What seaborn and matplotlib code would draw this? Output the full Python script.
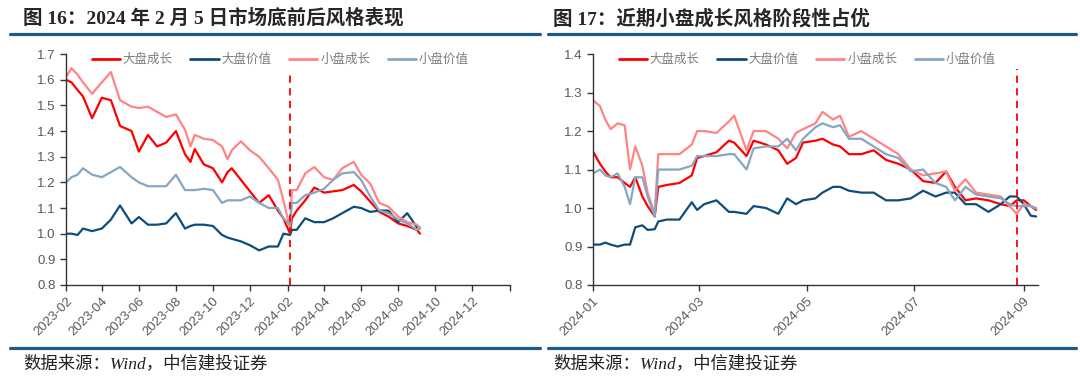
import pandas as pd
import matplotlib
matplotlib.use("Agg")
import matplotlib.pyplot as plt
from matplotlib.lines import Line2D
import seaborn as sns

# 系列名称与颜色
SERIES = ["大盘成长", "大盘价值", "小盘成长", "小盘价值"]
COLORS = ["#FF0000", "#0E4D7B", "#FF8585", "#86A7C2"]

# 图16：2023-02 ~ 2024-09
dates_16 = [
    "2023-02-01", "2023-02-10", "2023-02-20", "2023-03-01", "2023-03-16", "2023-04-01",
    "2023-04-16", "2023-05-01", "2023-05-20", "2023-06-01", "2023-06-16", "2023-07-01",
    "2023-07-16", "2023-08-01", "2023-08-16", "2023-08-25", "2023-09-01", "2023-09-16",
    "2023-10-01", "2023-10-16", "2023-10-25", "2023-11-01", "2023-11-16", "2023-12-01",
    "2023-12-16", "2024-01-01", "2024-01-16", "2024-01-25", "2024-02-05", "2024-02-08",
    "2024-02-16", "2024-03-01", "2024-03-16", "2024-04-01", "2024-04-16", "2024-05-01",
    "2024-05-20", "2024-06-01", "2024-06-16", "2024-07-01", "2024-07-16", "2024-08-01",
    "2024-08-16", "2024-09-01", "2024-09-06",
]
lg_16 = [1.60, 1.59, 1.56, 1.535, 1.45, 1.53, 1.52, 1.42, 1.40, 1.32, 1.385, 1.34,
         1.355, 1.40, 1.31, 1.28, 1.33, 1.27, 1.255, 1.20, 1.24, 1.255, 1.21, 1.165,
         1.12, 1.15, 1.09, 1.06, 1.00, 1.06, 1.09, 1.13, 1.18, 1.16, 1.165, 1.17,
         1.19, 1.165, 1.125, 1.085, 1.067, 1.04, 1.03, 1.015, 1.00]
lv_16 = [1.00, 1.00, 0.995, 1.02, 1.01, 1.02, 1.055, 1.11, 1.04, 1.065, 1.035, 1.035,
         1.04, 1.08, 1.02, 1.03, 1.035, 1.035, 1.03, 0.995, 0.985, 0.98, 0.97, 0.955,
         0.935, 0.95, 0.95, 1.00, 0.995, 1.015, 1.015, 1.06, 1.045, 1.045, 1.06, 1.08,
         1.105, 1.10, 1.085, 1.09, 1.09, 1.045, 1.08, 1.025, 1.02]
sg_16 = [1.61, 1.645, 1.62, 1.59, 1.545, 1.59, 1.63, 1.52, 1.495, 1.49, 1.495, 1.475,
         1.455, 1.465, 1.405, 1.34, 1.385, 1.37, 1.365, 1.34, 1.29, 1.325, 1.36, 1.325,
         1.30, 1.255, 1.21, 1.13, 1.02, 1.17, 1.17, 1.235, 1.26, 1.22, 1.21, 1.255,
         1.28, 1.23, 1.195, 1.12, 1.105, 1.067, 1.045, 1.035, 1.02]
sv_16 = [1.20, 1.22, 1.23, 1.255, 1.23, 1.22, 1.24, 1.26, 1.22, 1.20, 1.185, 1.185,
         1.185, 1.23, 1.17, 1.17, 1.17, 1.175, 1.17, 1.12, 1.13, 1.13, 1.13, 1.145,
         1.12, 1.10, 1.10, 1.06, 1.035, 1.12, 1.12, 1.15, 1.16, 1.175, 1.21, 1.235,
         1.24, 1.21, 1.145, 1.09, 1.08, 1.055, 1.04, 1.015, 1.025]

# 图17：2024-01 ~ 2024-09
dates_17 = [
    "2024-01-01", "2024-01-05", "2024-01-08", "2024-01-11", "2024-01-15", "2024-01-19",
    "2024-01-22", "2024-01-25", "2024-01-29", "2024-02-01", "2024-02-05", "2024-02-07",
    "2024-02-12", "2024-02-19", "2024-02-26", "2024-02-29", "2024-03-04", "2024-03-11",
    "2024-03-18", "2024-03-21", "2024-03-28", "2024-04-01", "2024-04-08", "2024-04-15",
    "2024-04-20", "2024-04-25", "2024-04-29", "2024-05-06", "2024-05-10", "2024-05-16",
    "2024-05-20", "2024-05-25", "2024-06-01", "2024-06-08", "2024-06-15", "2024-06-22",
    "2024-06-29", "2024-07-06", "2024-07-13", "2024-07-19", "2024-07-24", "2024-07-30",
    "2024-08-05", "2024-08-12", "2024-08-19", "2024-08-24", "2024-08-28", "2024-09-01",
    "2024-09-05", "2024-09-08",
]
lg_17 = [1.147, 1.115, 1.095, 1.08, 1.08, 1.065, 1.055, 1.08, 1.03, 1.005, 0.978, 1.055,
         1.06, 1.065, 1.085, 1.13, 1.135, 1.145, 1.175, 1.17, 1.135, 1.175, 1.165, 1.15,
         1.115, 1.13, 1.17, 1.175, 1.18, 1.165, 1.16, 1.14, 1.14, 1.15, 1.125, 1.115,
         1.10, 1.07, 1.065, 1.095, 1.055, 1.02, 1.025, 1.02, 1.01, 1.005, 1.02, 1.02,
         1.005, 0.995]
lv_17 = [0.905, 0.905, 0.91, 0.905, 0.90, 0.905, 0.905, 0.95, 0.955, 0.943, 0.945, 0.965,
         0.97, 0.97, 1.015, 0.995, 1.01, 1.02, 0.99, 0.99, 0.985, 1.005, 1.00, 0.985,
         1.025, 1.01, 1.02, 1.025, 1.04, 1.055, 1.055, 1.045, 1.04, 1.04, 1.02, 1.02,
         1.025, 1.045, 1.03, 1.04, 1.04, 1.01, 1.01, 0.99, 1.01, 1.03, 1.03, 1.01,
         0.98, 0.978]
sg_17 = [1.28, 1.265, 1.23, 1.205, 1.22, 1.215, 1.10, 1.16, 1.11, 1.04, 0.985, 1.14,
         1.14, 1.14, 1.165, 1.20, 1.20, 1.195, 1.225, 1.24, 1.15, 1.20, 1.20, 1.18,
         1.155, 1.195, 1.205, 1.22, 1.25, 1.23, 1.24, 1.185, 1.20, 1.18, 1.16, 1.14,
         1.10, 1.085, 1.09, 1.095, 1.045, 1.075, 1.04, 1.035, 1.03, 1.005, 0.985, 1.01,
         1.005, 1.00]
sv_17 = [1.09, 1.10, 1.085, 1.08, 1.09, 1.055, 1.01, 1.08, 1.08, 1.03, 0.978, 1.10,
         1.10, 1.10, 1.11, 1.135, 1.135, 1.135, 1.14, 1.14, 1.10, 1.155, 1.16, 1.16,
         1.18, 1.15, 1.18, 1.21, 1.22, 1.21, 1.215, 1.18, 1.18, 1.16, 1.14, 1.13,
         1.095, 1.10, 1.065, 1.055, 1.02, 1.055, 1.035, 1.03, 1.025, 1.01, 1.005, 1.005,
         1.005, 0.998]

ticks_16 = ["2023-02", "2023-04", "2023-06", "2023-08", "2023-10", "2023-12", "2024-02",
            "2024-04", "2024-06", "2024-08", "2024-10", "2024-12", "2025-02"]
ticks_17 = ["2024-01", "2024-03", "2024-05", "2024-07", "2024-09"]

MARK_16 = "2024-02-05"
MARK_17 = "2024-08-28"

CJK = ["Liberation Sans", "Noto Sans CJK SC", "DejaVu Sans"]
TITLE_FONT = ["Liberation Serif", "Noto Sans CJK SC"]
GRAY = "#595959"
RULE = "#1D5A8A"

sns.set_theme(style="ticks")
plt.rcParams["font.family"] = CJK
plt.rcParams["axes.unicode_minus"] = False


def to_long(dates, cols):
    df = pd.DataFrame({"date": pd.to_datetime(dates)})
    for name, vals in zip(SERIES, cols):
        df[name] = vals
    return df.melt(id_vars="date", var_name="系列", value_name="值")


def draw(ax, df, ylim, yticks, xlim, ticks, mark, mark_top, legend_x):
    sns.lineplot(data=df, x="date", y="值", hue="系列", hue_order=SERIES,
                 palette=COLORS, linewidth=1.6, ax=ax, legend=True)
    ax.axvline(pd.Timestamp(mark), ymin=0, ymax=mark_top, color="#FF0000",
               lw=1.3, ls=(0, (4, 3)))
    ax.set_ylim(*ylim)
    ax.set_yticks(yticks)
    ax.set_yticklabels([f"{v:.1f}" for v in yticks])
    ax.set_xlim(pd.Timestamp(xlim[0]), pd.Timestamp(xlim[1]))
    tick_dates = [pd.Timestamp(t + "-01") for t in ticks]
    ax.set_xticks(tick_dates)
    labels = list(ticks)
    if xlim[1] == ticks[-1] + "-01":
        labels[-1] = ""
    ax.set_xticklabels(labels, rotation=45, ha="right", rotation_mode="anchor")
    ax.set_xlabel("")
    ax.set_ylabel("")
    for s in ["top", "right"]:
        ax.spines[s].set_visible(False)
    for s in ["left", "bottom"]:
        ax.spines[s].set_color("#333333")
        ax.spines[s].set_linewidth(1.0)
    ax.tick_params(axis="both", colors="#333333", labelcolor=GRAY, labelsize=9.5,
                   length=4, width=1.0, direction="out")
    ax.grid(False)
    leg = ax.legend(loc="center", bbox_to_anchor=(legend_x, 0.975), ncol=4,
                    frameon=False, fontsize=9, handlelength=2.25, columnspacing=1.4,
                    handletextpad=0.25)
    for t in leg.get_texts():
        t.set_color("#7F7F7F")
    for h in leg.get_lines():
        h.set_linewidth(2.0)


fig = plt.figure(figsize=(10.8, 3.81), dpi=100)
ax1 = fig.add_axes([0.0611, 0.252, 0.411, 0.606])
ax2 = fig.add_axes([0.549, 0.252, 0.412, 0.606])

draw(ax1, to_long(dates_16, [lg_16, lv_16, sg_16, sv_16]), (0.8, 1.7),
     [0.8 + 0.1 * i for i in range(10)], ("2023-02-01", "2025-02-01"), ticks_16,
     MARK_16, 0.922, 0.483)
draw(ax2, to_long(dates_17, [lg_17, lv_17, sg_17, sv_17]), (0.8, 1.4),
     [0.8 + 0.1 * i for i in range(7)], ("2024-01-01", "2024-09-09"), ticks_17,
     MARK_17, 0.935, 0.482)

# 标题、分隔线、数据来源
fig.text(0.021, 0.952, "图 16：2024 年 2 月 5 日市场底前后风格表现", fontsize=14,
         fontweight="bold", family=TITLE_FONT, va="center", ha="left")
fig.text(0.512, 0.952, "图 17：近期小盘成长风格阶段性占优", fontsize=14,
         fontweight="bold", family=TITLE_FONT, va="center", ha="left")
for x0, x1 in [(0.009, 0.5), (0.507, 0.996)]:
    fig.add_artist(Line2D([x0, x1], [0.911, 0.911], color=RULE, lw=2.3))
    fig.add_artist(Line2D([x0, x1], [0.087, 0.087], color=RULE, lw=2.3))
for x in [0.022, 0.512]:
    fig.text(x, 0.045, "数据来源：Wind，中信建投证券", fontsize=12.5, style="italic",
             family=TITLE_FONT, va="center", ha="left", color="#222222")

fig.savefig("out.png", dpi=100)
